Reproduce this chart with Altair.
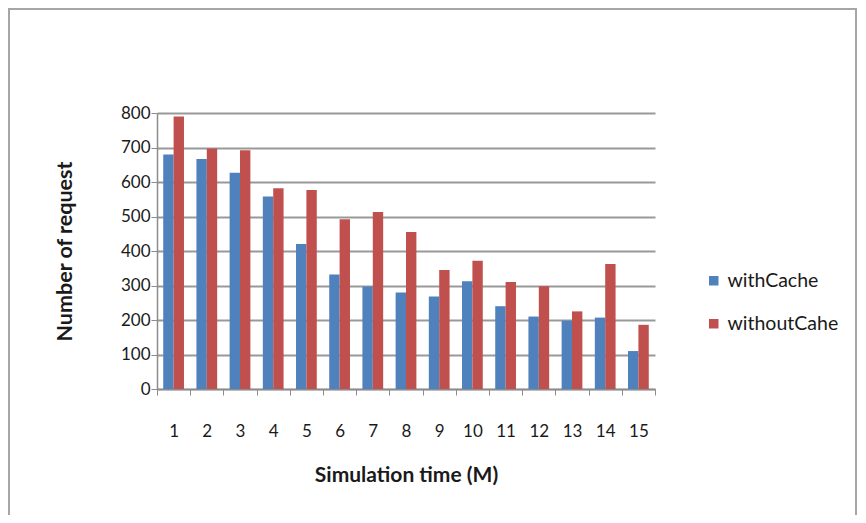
import altair as alt
import pandas as pd

times = [str(i) for i in range(1, 16)]
with_cache = [680, 667, 627, 558, 420, 332, 297, 280, 268, 312, 240, 210, 198, 207, 110]
without_cache = [790, 697, 692, 582, 577, 492, 513, 455, 345, 372, 310, 298, 225, 362, 186]
series = ["withCache", "withoutCahe"]
colors = ["#4F81BD", "#C0504D"]
y_ticks = [0, 100, 200, 300, 400, 500, 600, 700, 800]

rows = []
for t, a, b in zip(times, with_cache, without_cache):
    rows.append({"time": t, "series": series[0], "value": a})
    rows.append({"time": t, "series": series[1], "value": b})
df = pd.DataFrame(rows)

FONT = "Lato"
W, H = 498, 276

bars = alt.Chart(df).mark_bar().encode(
    x=alt.X("time:N", sort=times,
            scale=alt.Scale(paddingInner=0, paddingOuter=0),
            axis=alt.Axis(title="Simulation time (M)", labelAngle=0, tickBand="extent",
                          labelPadding=28, titlePadding=25, tickSize=6,
                          domainColor="#8c8c8c", tickColor="#8c8c8c", domainWidth=1.5,
                          labelFontSize=17, titleFontSize=21, titleFontWeight="bold",
                          labelColor="#1a1a1a", titleColor="#1a1a1a", grid=False)),
    xOffset=alt.XOffset("series:N", sort=series, scale=alt.Scale(paddingOuter=0.6)),
    y=alt.Y("value:Q", scale=alt.Scale(domain=[0, 800], nice=False),
            axis=alt.Axis(title="Number of request", values=y_ticks, tickSize=6,
                          labelPadding=1, titlePadding=44, labelFontSize=17,
                          titleFontSize=21.5, titleFontWeight="bold",
                          domainColor="#8c8c8c", tickColor="#8c8c8c", domainWidth=1.5,
                          gridColor="#999999", gridWidth=2,
                          labelColor="#1a1a1a", titleColor="#1a1a1a")),
    color=alt.Color("series:N", sort=series,
                    scale=alt.Scale(domain=series, range=colors),
                    legend=alt.Legend(title=None, orient="none", legendX=547, legendY=158,
                                      symbolType="square", symbolSize=90,
                                      symbolStrokeWidth=0, labelFontSize=19.5,
                                      labelOffset=4,
                                      rowPadding=22, labelColor="#1a1a1a")),
)

border = alt.Chart(pd.DataFrame({"a": [0]})).mark_rect(
    fill=None, stroke="#a6a6a6", strokeWidth=2
).encode(
    x=alt.value(-148), x2=alt.value(699), y=alt.value(-104), y2=alt.value(420)
)

chart = alt.layer(border, bars).properties(
    width=W, height=H,
    autosize=alt.AutoSizeParams(type="none"),
    padding={"left": 149, "top": 105, "right": 203, "bottom": 126},
).configure(
    font=FONT, background="white"
).configure_view(stroke=None)

chart.save("out.html", embed_options={"renderer": "svg", "actions": False})
